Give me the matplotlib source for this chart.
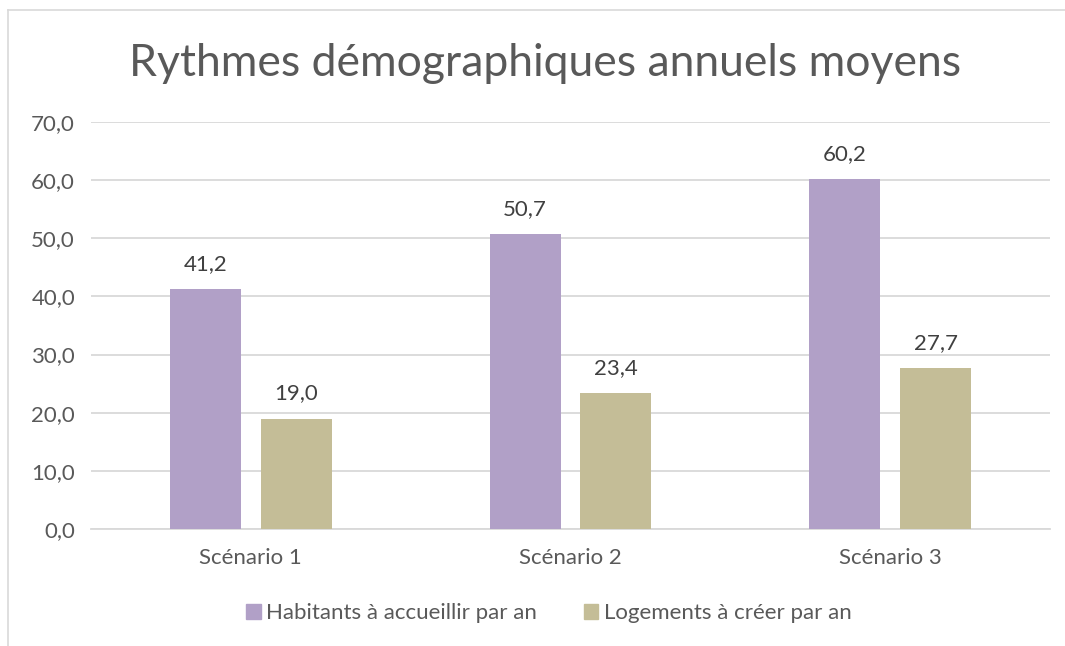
import numpy as np
import matplotlib
matplotlib.use('Agg')
import matplotlib.pyplot as plt
from matplotlib.patches import Rectangle

plt.rcParams['font.family'] = ['Lato', 'DejaVu Sans']

categories = ['Scénario 1', 'Scénario 2', 'Scénario 3']
habitants = [41.2, 50.7, 60.2]
logements = [19.0, 23.4, 27.7]
series_names = ['Habitants à accueillir par an', 'Logements à créer par an']
colors = ['#B1A0C7', '#C4BD97']

W, H = 1065, 646
fig = plt.figure(figsize=(W / 100, H / 100), dpi=100)

# chart border (left and top visible)
fig.add_artist(plt.Line2D([8 / W, 8 / W], [1 - 10 / H, 0], color='#D9D9D9', lw=1.2))
fig.add_artist(plt.Line2D([8 / W, 1], [1 - 10 / H, 1 - 10 / H], color='#D9D9D9', lw=1.2))

ax = fig.add_axes([91 / W, (H - 529) / H, 959 / W, 407 / H])

x = np.arange(len(categories))
bw = 0.222
off = 0.142
b1 = ax.bar(x - off, habitants, bw, color=colors[0], zorder=3)
b2 = ax.bar(x + off, logements, bw, color=colors[1], zorder=3)

for bars, vals in [(b1, habitants), (b2, logements)]:
    for r, v in zip(bars, vals):
        ax.annotate(f'{v:.1f}'.replace('.', ','), (r.get_x() + r.get_width() / 2, v),
                    xytext=(0, 11), textcoords='offset points', ha='center', va='bottom',
                    fontsize=16, color='#404040')

ax.set_xlim(-0.5, 2.5)
ax.set_ylim(0, 70)
yt = np.arange(0, 71, 10)
ax.set_yticks(yt)
ax.set_yticklabels([f'{v:.1f}'.replace('.', ',') for v in yt], fontsize=16, color='#595959')
ax.set_xticks(x)
ax.set_xticklabels(categories, fontsize=16, color='#595959')
ax.tick_params(length=0)
ax.tick_params(axis='y', pad=11.5)
ax.tick_params(axis='x', pad=14)
ax.grid(axis='y', color='#D9D9D9', lw=1.3, zorder=0)
for s in ['top', 'right', 'left']:
    ax.spines[s].set_visible(False)
ax.spines['bottom'].set_color('#D9D9D9')
ax.spines['bottom'].set_linewidth(1.3)

fig.text(545 / W, 1 - 64 / H, 'Rythmes démographiques annuels moyens', ha='center', va='center',
         fontsize=32, color='#595959')

handles = [Rectangle((0, 0), 1, 1, color=c) for c in colors]
fig.legend(handles, series_names, loc='center', bbox_to_anchor=(549 / W, 1 - 613 / H), ncol=2,
           frameon=False, fontsize=16, labelcolor='#595959', handlelength=0.65, handleheight=0.65,
           handletextpad=0.25, columnspacing=2.1)

fig.savefig('out.png', dpi=100)
